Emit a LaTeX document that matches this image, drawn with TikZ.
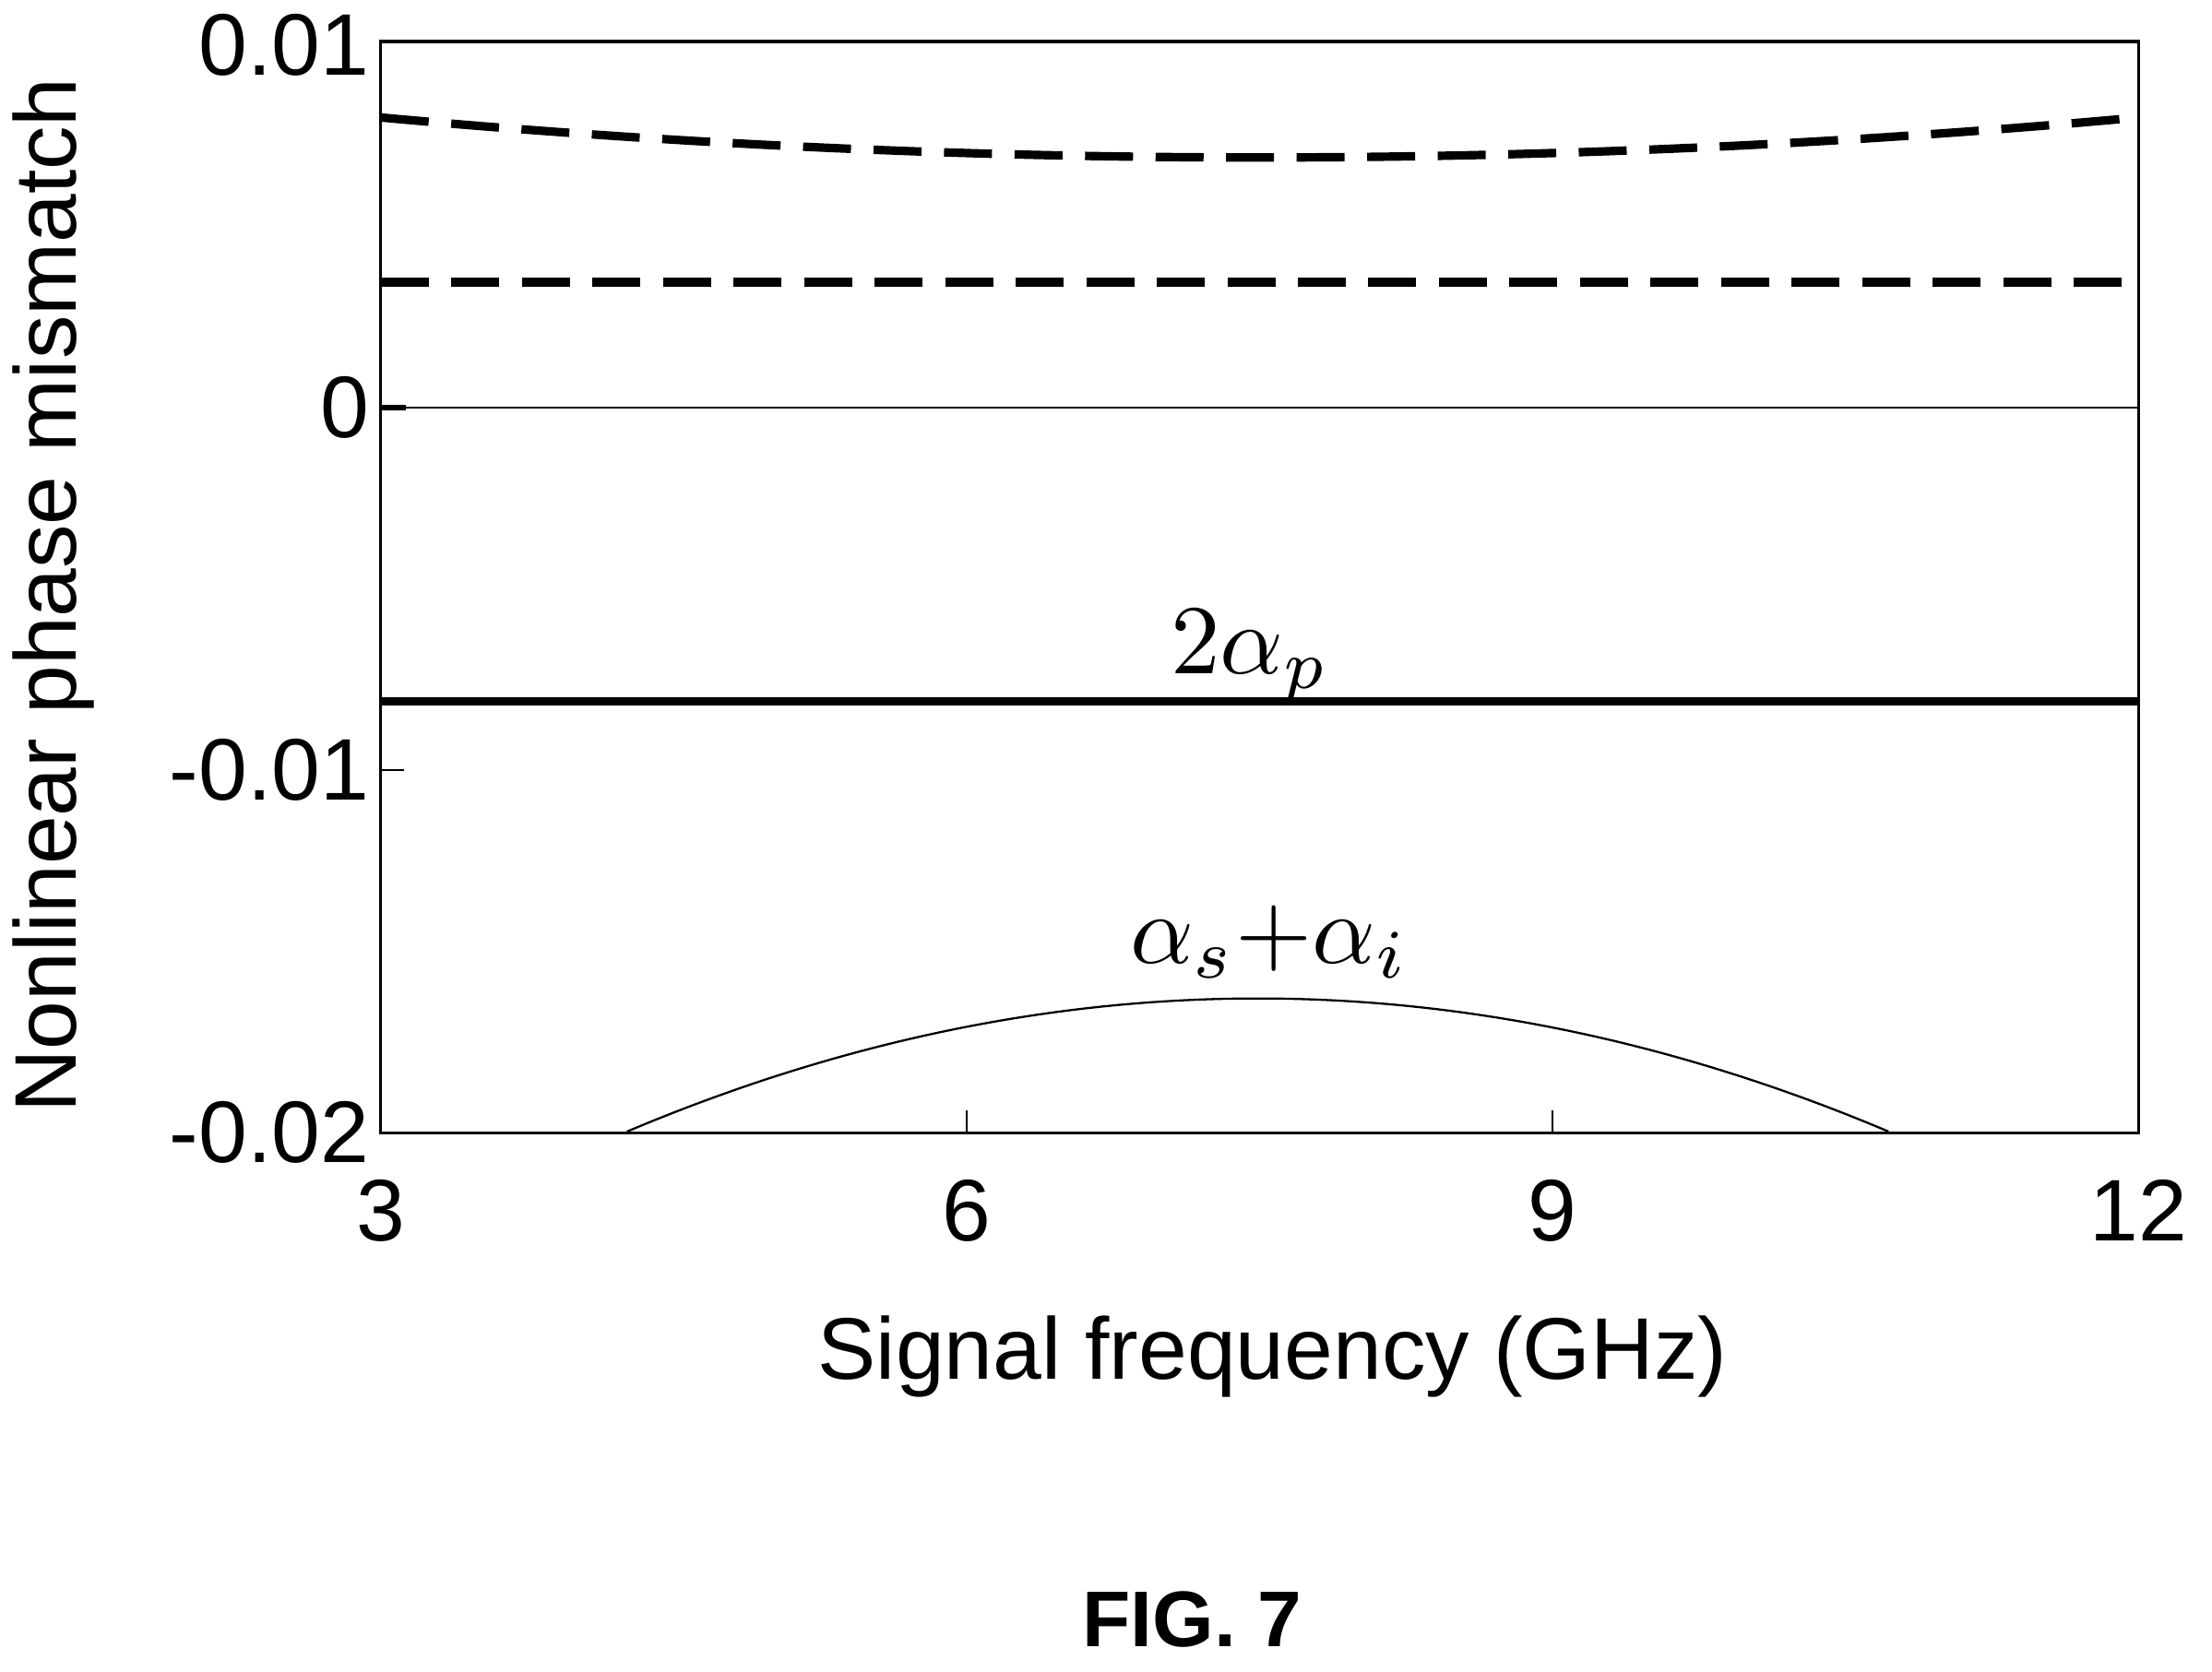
\documentclass[tikz,border=0pt]{standalone}
\usepackage{fontspec}
\setmainfont{Liberation Sans}
\begin{document}
\begin{tikzpicture}[x=1pt,y=1pt,
  lbl/.style={font=\fontsize{62}{62}\selectfont},
  mlbl/.style={scale=7,inner sep=0pt},
  dsh/.style={line width=6pt,dash pattern=on 34pt off 16pt}]
\useasboundingbox (0,0) rectangle (1568,-1185);
\begin{scope}[shift={(270,-289)},x=138.44pt,y=25.7pt]
 \draw[line width=2pt] (0,10.1) rectangle (9,-20);
 \draw[line width=1pt] (0,0) -- (9,0);
 \draw[line width=4pt] (0,0) -- (0.13,0);
 \draw[line width=1.5pt] (0,-10) -- (0.12,-10);
 \draw[line width=1.5pt] (3,-20) -- (3,-19.4) (6,-20) -- (6,-19.4);
 \draw[dsh] plot[domain=0:9,samples=60,smooth] (\x,{6.9+0.0545*(\x-4.5)*(\x-4.5)});
 \draw[dsh] (0,3.46) -- (9,3.46);
 \draw[line width=6pt] (0,-8.1) -- (9,-8.1);
 \draw[line width=1.5pt] plot[domain=1.26:7.72,samples=60,smooth] (\x,{-16.3-0.352*(\x-4.49)*(\x-4.49)});
 \node[mlbl] (ap) at (4.45,-6.85) {$2\alpha_p$};
 \node[mlbl] (as) at (4.55,-14.75) {$\alpha_s{+}\alpha_i$};
 \foreach \v/\t in {10/0.01,0/0,-10/-0.01,-20/-0.02}
   \node[lbl,anchor=east,inner sep=0pt] at (-0.06,\v) {\t};
 \foreach \f in {3,6,9,12}
   \node[lbl,anchor=north,inner sep=0pt] at (\f-3,-21.3) {\f};
\end{scope}
\node[lbl] (xl) at (902,-962) {Signal frequency (GHz)};
\node[lbl,rotate=90] (yl) at (38,-422) {Nonlinear phase mismatch};
\node[font=\fontsize{56}{56}\selectfont\bfseries] (fig) at (845,-1148) {FIG. 7};
\end{tikzpicture}
\end{document}
